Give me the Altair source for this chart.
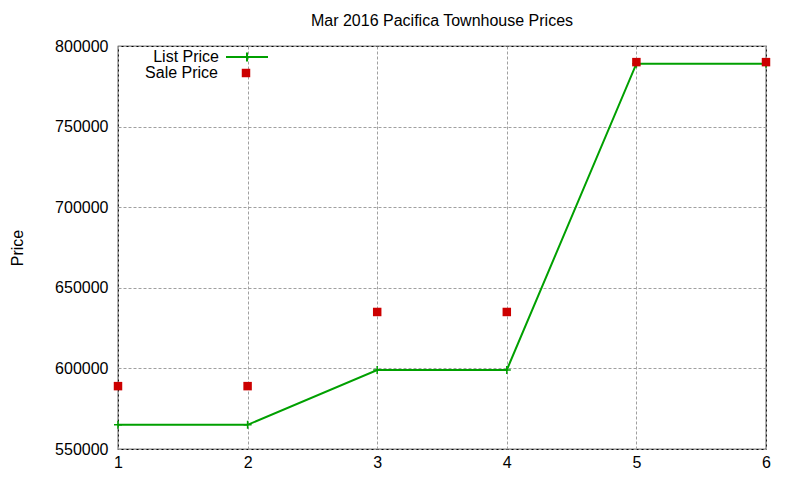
import altair as alt
import pandas as pd

x_vals = [1, 2, 3, 4, 5, 6]
list_price = [565000, 565000, 599000, 599000, 789000, 789000]
sale_price = [589000, 589000, 635000, 635000, 790000, 790000]
y_ticks = [550000, 600000, 650000, 700000, 750000, 800000]

GREEN = "#00a000"
RED = "#cc0000"
FONT = "Liberation Sans"

list_df = pd.DataFrame({"x": x_vals, "price": list_price, "series": "List Price"})
sale_df = pd.DataFrame({"x": x_vals, "price": sale_price, "series": "Sale Price"})

xscale = alt.Scale(domain=[1, 6], nice=False, zero=False)
yscale = alt.Scale(domain=[550000, 800000], nice=False, zero=False)

common_axis = dict(
    labelFont=FONT, labelFontSize=16, labelColor="#000000",
    titleFont=FONT, titleFontSize=16, titleColor="#000000", titleFontWeight="normal",
    gridColor="#a0a0a0", gridDash=[3, 2], gridWidth=1, gridOpacity=1,
    grid=True, ticks=False, domain=False, labelFlush=False,
)

xaxis = alt.Axis(values=x_vals, format="d", title=None, labelPadding=5, **common_axis)
yaxis = alt.Axis(values=y_ticks, format="d", title="Price", labelPadding=10,
                 titlePadding=29, **common_axis)

PLUS = "M-1,0H1M0,-1V1"

line = alt.Chart(list_df).mark_line(strokeWidth=2).encode(
    x=alt.X("x:Q", scale=xscale, axis=xaxis),
    y=alt.Y("price:Q", scale=yscale, axis=yaxis),
    color=alt.Color(
        "series:N",
        scale=alt.Scale(domain=["List Price"], range=[GREEN]),
        legend=alt.Legend(
            title=None, orient="none", legendX=107, legendY=-11,
            symbolType="M-1,0H1M0,-0.22V0.22", symbolSize=1764,
            symbolStrokeWidth=2, labelAlign="right", labelOffset={"expr": "-50"},
            labelFontSize=16, labelFont=FONT, labelColor="#000000",
            padding=0,
        ),
    ),
)

plus = alt.Chart(list_df).mark_point(shape=PLUS, size=64, filled=False,
                                     strokeWidth=1.5, color=GREEN, opacity=1).encode(
    x=alt.X("x:Q", scale=xscale),
    y=alt.Y("price:Q", scale=yscale),
)

squares = alt.Chart(sale_df).mark_square(size=72, filled=True, opacity=1, strokeWidth=0).encode(
    x=alt.X("x:Q", scale=xscale),
    y=alt.Y("price:Q", scale=yscale),
    fill=alt.Fill(
        "series:N",
        scale=alt.Scale(domain=["Sale Price"], range=[RED]),
        legend=alt.Legend(
            title=None, orient="none", legendX=120, legendY=19,
            symbolType="square", symbolSize=72, symbolStrokeWidth=0,
            labelAlign="right", labelOffset={"expr": "-36"},
            labelFontSize=16, labelFont=FONT, labelColor="#000000",
            padding=0,
        ),
    ),
)

chart = alt.layer(line, plus, squares).properties(
    width=648,
    height=403,
    title=alt.TitleParams("Mar 2016 Pacifica Townhouse Prices", fontSize=16,
                          font=FONT, fontWeight="normal", color="#000000", offset=6),
    autosize=alt.AutoSizeParams(type="none"),
    padding={"left": 110, "top": 38, "right": 26, "bottom": 23},
    background="#ffffff",
).configure_view(
    stroke="#000000", strokeWidth=1.2
)

chart.save("out.html", embed_options={"renderer": "svg", "actions": False})
